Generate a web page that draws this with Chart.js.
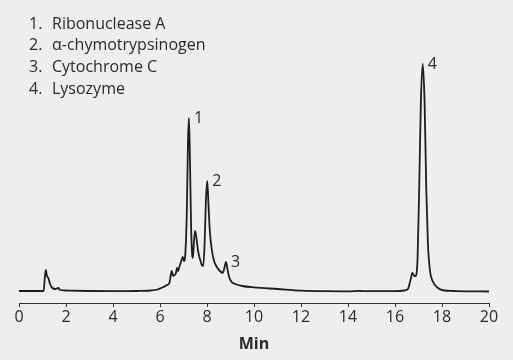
<!DOCTYPE html>
<html>
<head>
<meta charset="utf-8">
<script src="https://cdn.jsdelivr.net/npm/chart.js@4.4.0/dist/chart.umd.min.js"></script>
<style>
  html, body { margin: 0; padding: 0; background: #eeeeee; }
  #wrap { width: 513px; height: 360px; }
</style>
</head>
<body>
<div id="wrap"><canvas id="chromChart" width="513" height="360"></canvas></div>
<script>
// retention time (min) and detector signal
const minutes = [
    0.00, 1.05, 1.10, 1.14, 1.19, 1.25, 1.32, 1.42, 1.55, 1.67, 1.75, 2.00, 3.00, 4.00, 5.00,
    5.60, 5.90, 6.05, 6.15, 6.30, 6.40, 6.46, 6.50, 6.56, 6.62, 6.68, 6.72, 6.77, 6.82, 6.88,
    6.93, 6.97, 7.02, 7.08, 7.14, 7.19, 7.23, 7.27, 7.32, 7.37, 7.40, 7.44, 7.49, 7.55, 7.62,
    7.70, 7.78, 7.84, 7.90, 7.95, 8.01, 8.06, 8.12, 8.20, 8.30, 8.42, 8.55, 8.67, 8.74, 8.81,
    8.87, 8.94, 9.05, 9.20, 9.50, 10.00, 11.00, 12.00, 13.00, 14.00, 14.50, 14.60, 15.00, 16.00,
    16.40, 16.55, 16.65, 16.74, 16.82, 16.88, 16.96, 17.03, 17.10, 17.18, 17.26, 17.33, 17.40,
    17.49, 17.60, 17.83, 18.10, 18.50, 19.00, 20.00
];
const signal = [
    12, 12, 26, 33, 27, 25, 19, 15, 14, 15, 13, 12.5, 12, 11.8, 12,
    12.5, 13.5, 15, 16, 18, 20, 28, 32, 27, 28, 30, 35, 32, 36, 40,
    44, 46, 42, 50, 90, 160, 185, 150, 80, 48, 45, 60, 72, 65, 52,
    44, 38, 37, 60, 100, 122, 100, 72, 54, 42, 36, 32, 30, 35, 41,
    34, 26, 21, 19, 17, 15.6, 14, 12.4, 11.8, 11.7, 12.1, 11.9, 11.9, 11.9,
    12.5, 14, 22, 30, 27, 27, 45, 115, 200, 239, 200, 115, 60,
    32, 22, 15, 12.5, 12, 11.7, 11.5
];
const xTicks = [0, 2, 4, 6, 8, 10, 12, 14, 16, 18, 20];
const peakNames = ['Ribonuclease A', 'α-chymotrypsinogen', 'Cytochrome C', 'Lysozyme'];
const peakTimes = [7.23, 8.01, 8.81, 17.18];
const peakHeights = [185, 122, 41, 239];

const textColor = '#2a2a2a';
const fontFamily = '"Open Sans", "Noto Sans", sans-serif';

// legend list at top left + peak numbers next to each apex
const labelPlugin = {
    id: 'peakLabels',
    afterDraw(chart) {
        const ctx = chart.ctx;
        const xs = chart.scales.x;
        const ys = chart.scales.y;
        ctx.save();
        ctx.fillStyle = textColor;
        ctx.font = '16px ' + fontFamily;
        ctx.textBaseline = 'middle';
        peakNames.forEach((name, i) => {
            const y = 24 + i * 21.7;
            ctx.textAlign = 'left';
            ctx.fillText((i + 1) + '.', 29, y);
            ctx.fillText(name, 52, y);
        });
        peakTimes.forEach((t, i) => {
            const px = xs.getPixelForValue(t);
            const py = ys.getPixelForValue(peakHeights[i]);
            ctx.textAlign = 'left';
            ctx.fillText(String(i + 1), px + 5, py);
        });
        ctx.restore();
    }
};

const ctx = document.getElementById('chromChart').getContext('2d');
new Chart(ctx, {
    type: 'line',
    data: {
        datasets: [{
            data: minutes.map((m, i) => ({ x: m, y: signal[i] })),
            borderColor: '#1e1e1e',
            borderWidth: 1.8,
            pointRadius: 0,
            fill: false,
            cubicInterpolationMode: 'monotone'
        }]
    },
    options: {
        responsive: false,
        animation: false,
        layout: {
            padding: { left: 19, right: 24, top: 10, bottom: 6 }
        },
        scales: {
            x: {
                type: 'linear',
                min: 0,
                max: 20,
                afterBuildTicks: (axis) => {
                    axis.ticks = xTicks.map(v => ({ value: v }));
                },
                afterFit: (axis) => {
                    axis.height = 51;
                },
                border: { display: true, color: '#333333', width: 1 },
                grid: {
                    drawOnChartArea: false,
                    drawTicks: true,
                    tickLength: 4,
                    color: '#333333'
                },
                ticks: {
                    color: textColor,
                    font: { family: fontFamily, size: 16 },
                    padding: 1,
                    maxRotation: 0
                },
                title: {
                    display: true,
                    text: 'Min',
                    color: textColor,
                    font: { family: fontFamily, size: 16, weight: 'bold' },
                    padding: { top: 0, bottom: 0 }
                }
            },
            y: {
                display: false,
                min: 0,
                max: 293
            }
        },
        plugins: {
            legend: { display: false },
            tooltip: { enabled: false }
        }
    },
    plugins: [labelPlugin]
});
</script>
</body>
</html>
